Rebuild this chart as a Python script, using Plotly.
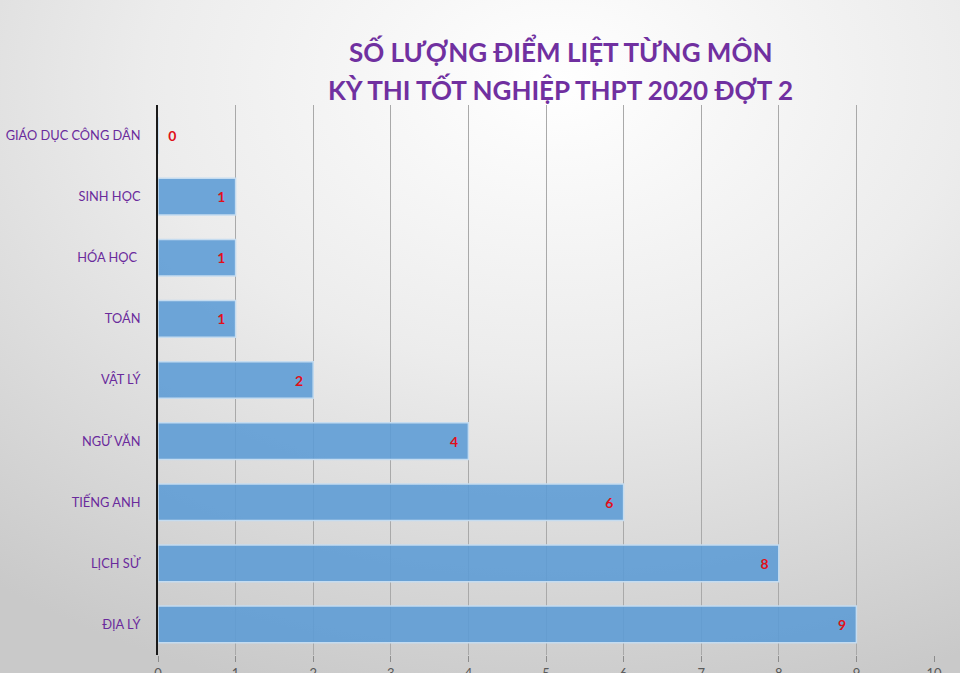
import base64
import plotly.graph_objects as go

# du lieu: so luong diem liet tung mon (tu tren xuong duoi)
subjects = ["GIÁO DỤC CÔNG DÂN", "SINH HỌC", "HÓA HỌC ", "TOÁN", "VẬT LÝ",
            "NGỮ VĂN", "TIẾNG ANH", "LỊCH SỬ", "ĐỊA LÝ"]
counts = [0, 1, 1, 1, 2, 4, 6, 8, 9]
x_ticks = list(range(0, 11))
title_lines = ["SỐ LƯỢNG ĐIỂM LIỆT TỪNG MÔN", "KỲ THI TỐT NGHIỆP THPT 2020 ĐỢT 2"]

W, H = 960, 673
L, R, T, B = 158, 26, 105, 18
PURPLE = "#7030a0"
RED = "#e0101a"

# nen gradient xam kieu PowerPoint
svg = f"""<svg xmlns='http://www.w3.org/2000/svg' width='{W}' height='{H}'>
<defs><radialGradient id='g' cx='0.58' cy='0.12' r='0.95'>
<stop offset='0' stop-color='#ffffff'/>
<stop offset='0.45' stop-color='#ececec'/>
<stop offset='1' stop-color='#c9c9c9'/>
</radialGradient></defs>
<rect width='{W}' height='{H}' fill='url(#g)'/></svg>"""
bg_src = "data:image/svg+xml;base64," + base64.b64encode(svg.encode()).decode()

pw, ph = W - L - R, H - T - B

fig = go.Figure(go.Bar(
    x=counts,
    y=subjects,
    orientation="h",
    marker=dict(color="rgba(91,155,213,0.88)", line=dict(color="#c5dcf0", width=1.5)),
    text=[str(c) for c in counts],
    textposition=["outside" if c == 0 else "inside" for c in counts],
    insidetextanchor="end",
    insidetextfont=dict(color=RED, size=14, family="Lato"),
    outsidetextfont=dict(color=RED, size=14, family="Lato"),
    texttemplate=["\u00a0\u00a0<b>%{text}</b>" if c == 0 else "<b>%{text}</b>\u00a0\u00a0" for c in counts],
    cliponaxis=False,
    hoverinfo="skip",
))

# tieu de 2 dong, dat rieng tung dong de khop khoang cach dong
for line, ypix in zip(title_lines, [51, 89]):
    fig.add_annotation(
        text=f"<b>{line}</b>",
        xref="paper", yref="paper",
        x=(560 - L) / pw, y=1 + (T - ypix) / ph,
        xanchor="center", yanchor="middle",
        showarrow=False,
        font=dict(size=26, color=PURPLE, family="Lato"),
    )

fig.update_layout(
    width=W, height=H,
    margin=dict(l=L, r=R, t=T, b=B, autoexpand=False),
    paper_bgcolor="#e6e6e6",
    plot_bgcolor="rgba(0,0,0,0)",
    bargap=0.4,
    showlegend=False,
    font=dict(family="Lato", color=PURPLE),
    xaxis=dict(
        range=[0, 10],
        tickvals=x_ticks,
        showgrid=True, gridcolor="#a9a9a9", gridwidth=1,
        zeroline=False,
        showline=False,
        ticks="outside", ticklen=6, tickcolor="#8c8c8c",
        tickfont=dict(size=13, color="#595959"),
        fixedrange=True,
    ),
    yaxis=dict(
        autorange="reversed",
        showline=True, linecolor="#1a1a1a", linewidth=2,
        ticks="", ticklabelstandoff=13,
        tickfont=dict(size=12.8, color="#6a2a9c", family="Lato"),
        fixedrange=True,
    ),
    images=[dict(
        source=bg_src, xref="paper", yref="paper",
        x=-L / pw, y=1 + T / ph, sizex=W / pw, sizey=H / ph,
        xanchor="left", yanchor="top", sizing="stretch", layer="below",
    )],
)

fig.write_html("out.html", config={"displayModeBar": False},
               post_script="document.body.style.margin='0';")
